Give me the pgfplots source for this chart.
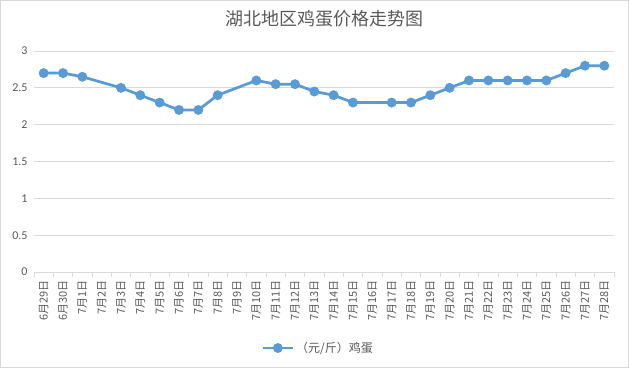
\documentclass[border=0pt]{standalone}
\usepackage{fontspec}
\setmainfont{Carlito}
\newfontfamily\cjk{Noto Sans CJK SC}
\usepackage{pgfplots}
\pgfplotsset{compat=1.18}
\definecolor{linec}{HTML}{5B9BD5}
\definecolor{gridc}{HTML}{D9D9D9}
\definecolor{textc}{HTML}{595959}
\begin{document}
\begin{tikzpicture}
\begin{axis}[
  scale only axis, width=580bp, height=221bp,
  xmin=-0.5, xmax=29.5, ymin=0, ymax=3,
  axis line style={draw=none},
  ytick={0,0.5,1,1.5,2,2.5,3},
  ytick style={draw=none},
  ymajorgrids, grid style={gridc, line width=0.75bp},
  yticklabel style={font=\fontsize{12bp}{14bp}\selectfont, color=textc, xshift=-3bp},
  /pgf/number format/assume math mode=true,
  /pgf/number format/fixed,
  xtick={-0.5,0.5,...,29.5},
  x tick label as interval,
  xtick pos=bottom, xtick align=outside,
  xtick style={draw=gridc, line width=0.75bp},
  major tick length=5bp,
  xticklabels={6月29日,6月30日,7月1日,7月2日,7月3日,7月4日,7月5日,7月6日,7月7日,7月8日,7月9日,7月10日,7月11日,7月12日,7月13日,7月14日,7月15日,7月16日,7月17日,7月18日,7月19日,7月20日,7月21日,7月22日,7月23日,7月24日,7月25日,7月26日,7月27日,7月28日},
  xticklabel style={rotate=90, anchor=east, font=\cjk\fontsize{11bp}{13bp}\selectfont, color=textc, yshift=0bp},
  title={\cjk 湖北地区鸡蛋价格走势图},
  title style={font=\fontsize{18bp}{20bp}\selectfont, color=textc, at={(0.5,1)}, anchor=center, yshift=26bp},
  legend style={at={(0.49,-0.344)}, anchor=center, draw=none, font=\cjk\fontsize{12bp}{14bp}\selectfont, text=textc},
  legend image code/.code={\draw[mark repeat=2,mark phase=2] plot coordinates {(0bp,0bp) (15bp,0bp) (30bp,0bp)};},
  clip=false,
]
\addplot[color=linec, line width=2.75bp, mark=*, mark size=3.5bp, mark options={fill=linec, draw=linec}] coordinates {
(0,2.7) (1,2.7) (2,2.65) (4,2.5) (5,2.4) (6,2.3) (7,2.2) (8,2.2) (9,2.4)
(11,2.6) (12,2.55) (13,2.55) (14,2.45) (15,2.4) (16,2.3) (18,2.3) (19,2.3)
(20,2.4) (21,2.5) (22,2.6) (23,2.6) (24,2.6) (25,2.6) (26,2.6) (27,2.7) (28,2.8) (29,2.8)
};
\addlegendentry{（元/斤）鸡蛋}
\coordinate (sw) at (rel axis cs:0,0);
\coordinate (ne) at (rel axis cs:1,1);
\end{axis}
\draw[gridc, line width=0.75bp] ([shift={(-33.625bp,-95.625bp)}]sw) rectangle ([shift={(14.625bp,50.625bp)}]ne);
\end{tikzpicture}
\end{document}
